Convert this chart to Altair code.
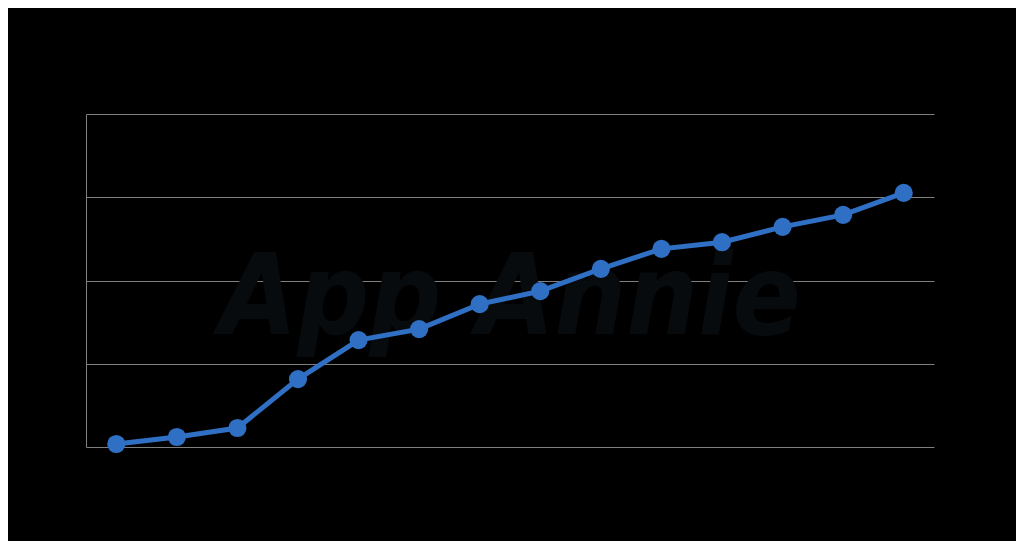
import altair as alt
import pandas as pd

periods = [str(i) for i in range(1, 15)]
values = [0.9, 3.0, 5.7, 20.4, 32.1, 35.4, 42.9, 46.8, 53.5, 59.5, 61.5, 66.1, 69.7, 76.3]
grid_values = [0, 25, 50, 75, 100]

df = pd.DataFrame({"period": periods, "value": values})

x = alt.X("period:O", sort=periods, scale=alt.Scale(type="point", padding=0.5),
          axis=alt.Axis(title=None, labels=False, ticks=False, domain=False, grid=False))
y = alt.Y("value:Q", scale=alt.Scale(domain=[0, 100], nice=False),
          axis=alt.Axis(title=None, labels=False, ticks=False, domain=True,
                        domainColor="#7f7f7f", domainWidth=1,
                        grid=True, gridColor="#7f7f7f", gridWidth=1,
                        values=grid_values))

wm = alt.Chart(pd.DataFrame({"t": ["App Annie"]})).mark_text(
    font="DejaVu Sans Condensed", fontStyle="italic", fontSize=112, fontWeight="bold",
    color="#080b0e", align="center", baseline="middle"
).encode(text="t:N", x=alt.value(424), y=alt.value(186))

line = alt.Chart(df).mark_line(color="#3070c4", strokeWidth=5).encode(x=x, y=y)
pts = alt.Chart(df).mark_circle(color="#3070c4", opacity=1, size=330).encode(x=x, y=y)

chart = alt.layer(wm, line, pts).properties(
    width=848, height=333,
    background="#000000",
    autosize=alt.AutoSizeParams(type="none"),
    padding={"left": 78, "top": 106, "right": 82, "bottom": 94},
).configure_view(stroke=None)

chart.save("out.html", embed_options={"renderer": "svg", "actions": False})
